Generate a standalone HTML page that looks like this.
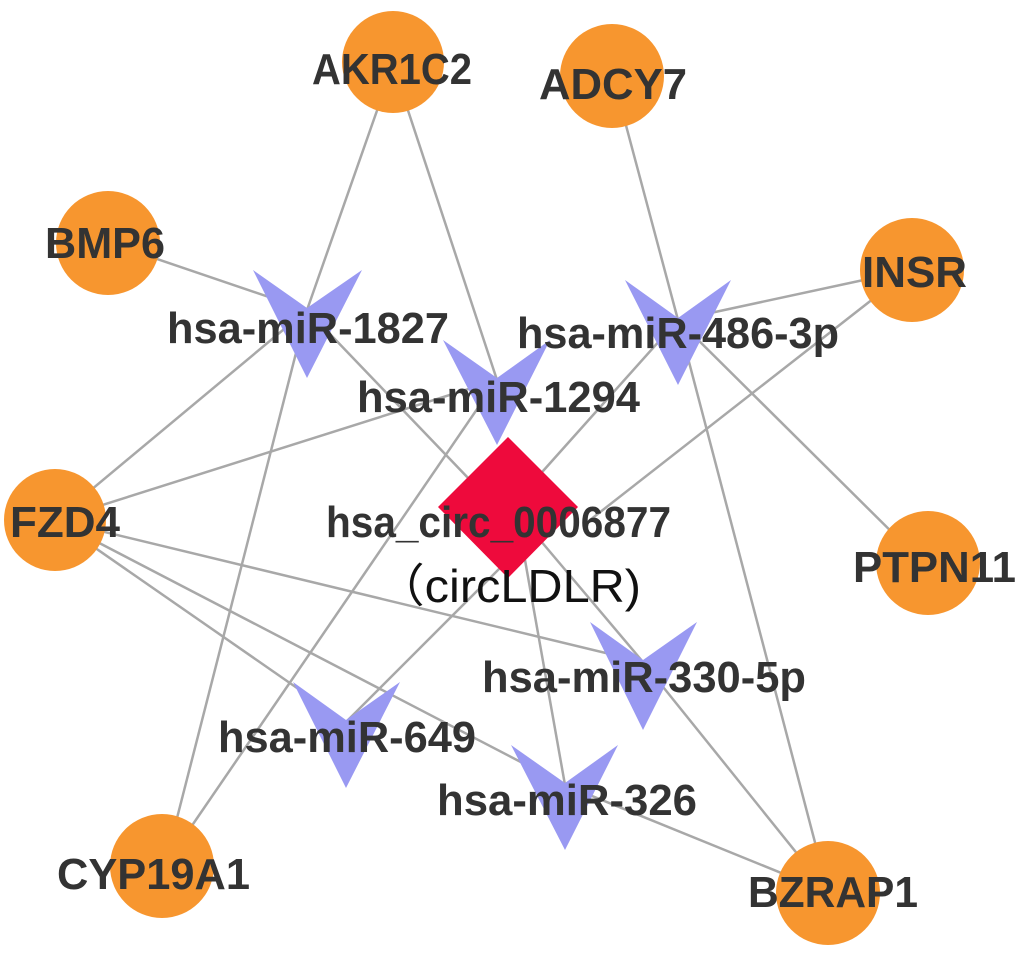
<!DOCTYPE html>
<html><head><meta charset="utf-8"><style>
html,body{margin:0;padding:0;background:#fff;width:1020px;height:957px;overflow:hidden}
svg{display:block}
.l{font-family:"Liberation Sans",Arial,sans-serif;font-weight:bold;fill:#333;font-size:44px}
</style></head><body>
<svg width="1020" height="957" viewBox="0 0 1020 957" xmlns="http://www.w3.org/2000/svg">
<g stroke="#a8a8a8" stroke-width="2.5" fill="none">
<line x1="393" y1="65" x2="307" y2="310"/>
<line x1="393" y1="65" x2="497" y2="380"/>
<line x1="612" y1="73" x2="678" y2="320"/>
<line x1="110" y1="243" x2="307" y2="310"/>
<line x1="910" y1="270" x2="678" y2="320"/>
<line x1="910" y1="270" x2="590" y2="520"/>
<line x1="678" y1="320" x2="535" y2="480"/>
<line x1="678" y1="320" x2="925" y2="565"/>
<line x1="678" y1="320" x2="828" y2="892"/>
<line x1="307" y1="310" x2="55" y2="520"/>
<line x1="307" y1="310" x2="165" y2="865"/>
<line x1="307" y1="310" x2="470" y2="480"/>
<line x1="497" y1="380" x2="55" y2="520"/>
<line x1="497" y1="380" x2="165" y2="865"/>
<line x1="55" y1="520" x2="643" y2="662"/>
<line x1="55" y1="520" x2="346" y2="722"/>
<line x1="55" y1="520" x2="565" y2="785"/>
<line x1="508" y1="560" x2="346" y2="722"/>
<line x1="525" y1="560" x2="565" y2="785"/>
<line x1="540" y1="540" x2="643" y2="662"/>
<line x1="643" y1="662" x2="828" y2="892"/>
<line x1="565" y1="785" x2="828" y2="892"/>
</g>
<g fill="#f7962f">
<circle cx="393" cy="62" r="51"/>
<circle cx="612" cy="76" r="52"/>
<circle cx="108" cy="243" r="52"/>
<circle cx="912" cy="270" r="52"/>
<circle cx="55" cy="520" r="51"/>
<circle cx="928" cy="563" r="52"/>
<circle cx="162" cy="866" r="52"/>
<circle cx="828" cy="893" r="52"/>
</g>
<polygon points="508,437 578,507 508,578 438,507" fill="#ee0a3c"/>
<g fill="#9999f2">
<polygon points="253,270 307,308 362,270 307,378"/>
<polygon points="443,340 497,378 550,340 497,445"/>
<polygon points="625,280 678,318 731,280 678,385"/>
<polygon points="590,622 643,660 697,622 643,730"/>
<polygon points="293,682 346,720 400,682 346,788"/>
<polygon points="511,745 565,783 618,745 565,850"/>
</g>
<g class="l">
<text x="312" y="84" textLength="160" lengthAdjust="spacingAndGlyphs">AKR1C2</text>
<text x="539" y="99" textLength="148" lengthAdjust="spacingAndGlyphs">ADCY7</text>
<text x="45" y="258" textLength="120" lengthAdjust="spacingAndGlyphs">BMP6</text>
<text x="862" y="287" textLength="105" lengthAdjust="spacingAndGlyphs">INSR</text>
<text x="10" y="537" textLength="110" lengthAdjust="spacingAndGlyphs">FZD4</text>
<text x="853" y="582" textLength="163" lengthAdjust="spacingAndGlyphs">PTPN11</text>
<text x="57" y="889" textLength="193" lengthAdjust="spacingAndGlyphs">CYP19A1</text>
<text x="748" y="907" textLength="170" lengthAdjust="spacingAndGlyphs">BZRAP1</text>
<text x="167" y="343" textLength="282" lengthAdjust="spacingAndGlyphs">hsa-miR-1827</text>
<text x="357" y="412" textLength="283" lengthAdjust="spacingAndGlyphs">hsa-miR-1294</text>
<text x="517" y="348" textLength="322" lengthAdjust="spacingAndGlyphs">hsa-miR-486-3p</text>
<text x="482" y="692" textLength="324" lengthAdjust="spacingAndGlyphs">hsa-miR-330-5p</text>
<text x="218" y="752" textLength="258" lengthAdjust="spacingAndGlyphs">hsa-miR-649</text>
<text x="437" y="815" textLength="260" lengthAdjust="spacingAndGlyphs">hsa-miR-326</text>
<text x="326" y="537" textLength="345" lengthAdjust="spacingAndGlyphs">hsa_circ_0006877</text>
<text x="376" y="602" textLength="265" lengthAdjust="spacingAndGlyphs" style="font-weight:normal;fill:#111;font-size:46px">（circLDLR)</text>
</g>
</svg>
</body></html>
